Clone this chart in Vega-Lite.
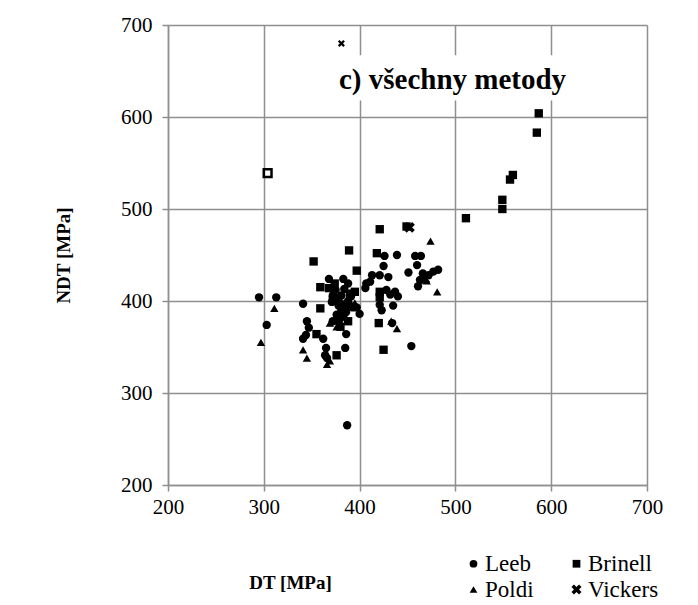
{
  "$schema": "https://vega.github.io/schema/vega-lite/v6.json",
  "width": 479,
  "height": 460,
  "autosize": "none",
  "padding": {"left": 168, "top": 25, "right": 51, "bottom": 120},
  "config": {
    "view": {"stroke": null},
    "font": "Liberation Serif",
    "axis": {
      "grid": true,
      "gridColor": "#8f8f8f",
      "gridWidth": 1.5,
      "domainColor": "#8f8f8f",
      "domainWidth": 1.5,
      "tickColor": "#8f8f8f",
      "tickWidth": 1.5,
      "tickSize": 6,
      "labelFlush": false,
      "labelFont": "Liberation Serif",
      "labelFontSize": 21,
      "labelColor": "black",
      "titleFont": "Liberation Serif",
      "titleFontSize": 19,
      "titleFontWeight": "bold",
      "titleColor": "black"
    },
    "legend": {
      "labelFont": "Liberation Serif",
      "labelFontSize": 23,
      "labelColor": "black"
    }
  },
  "datasets": {
    "pts": [
      {"m": "Leeb", "DT": 295, "NDT": 404}, {"m": "Leeb", "DT": 303, "NDT": 374}, {"m": "Leeb", "DT": 313, "NDT": 404},
      {"m": "Leeb", "DT": 341, "NDT": 397}, {"m": "Leeb", "DT": 345, "NDT": 378}, {"m": "Leeb", "DT": 347, "NDT": 371},
      {"m": "Leeb", "DT": 341, "NDT": 359}, {"m": "Leeb", "DT": 344, "NDT": 363}, {"m": "Leeb", "DT": 362, "NDT": 359},
      {"m": "Leeb", "DT": 365, "NDT": 349}, {"m": "Leeb", "DT": 364, "NDT": 341}, {"m": "Leeb", "DT": 366, "NDT": 338},
      {"m": "Leeb", "DT": 385, "NDT": 349}, {"m": "Leeb", "DT": 386, "NDT": 364}, {"m": "Leeb", "DT": 387, "NDT": 265},
      {"m": "Leeb", "DT": 368, "NDT": 424}, {"m": "Leeb", "DT": 383, "NDT": 424}, {"m": "Leeb", "DT": 371, "NDT": 399},
      {"m": "Leeb", "DT": 378, "NDT": 395}, {"m": "Leeb", "DT": 400, "NDT": 386}, {"m": "Leeb", "DT": 407, "NDT": 419},
      {"m": "Leeb", "DT": 406, "NDT": 414}, {"m": "Leeb", "DT": 413, "NDT": 428}, {"m": "Leeb", "DT": 421, "NDT": 428},
      {"m": "Leeb", "DT": 430, "NDT": 426}, {"m": "Leeb", "DT": 425, "NDT": 438}, {"m": "Leeb", "DT": 426, "NDT": 449},
      {"m": "Leeb", "DT": 439, "NDT": 450}, {"m": "Leeb", "DT": 458, "NDT": 449}, {"m": "Leeb", "DT": 464, "NDT": 449},
      {"m": "Leeb", "DT": 460, "NDT": 439}, {"m": "Leeb", "DT": 451, "NDT": 431}, {"m": "Leeb", "DT": 437, "NDT": 410},
      {"m": "Leeb", "DT": 432, "NDT": 407}, {"m": "Leeb", "DT": 421, "NDT": 396}, {"m": "Leeb", "DT": 435, "NDT": 395},
      {"m": "Leeb", "DT": 434, "NDT": 376}, {"m": "Leeb", "DT": 454, "NDT": 351}, {"m": "Leeb", "DT": 463, "NDT": 423},
      {"m": "Leeb", "DT": 461, "NDT": 416}, {"m": "Leeb", "DT": 472, "NDT": 428}, {"m": "Leeb", "DT": 477, "NDT": 432},
      {"m": "Leeb", "DT": 482, "NDT": 434}, {"m": "Leeb", "DT": 388, "NDT": 400}, {"m": "Leeb", "DT": 391, "NDT": 405},
      {"m": "Leeb", "DT": 393, "NDT": 393}, {"m": "Leeb", "DT": 375, "NDT": 412}, {"m": "Leeb", "DT": 381, "NDT": 406},
      {"m": "Leeb", "DT": 384, "NDT": 413}, {"m": "Leeb", "DT": 372, "NDT": 406}, {"m": "Leeb", "DT": 376, "NDT": 385},
      {"m": "Leeb", "DT": 386, "NDT": 388}, {"m": "Leeb", "DT": 397, "NDT": 393}, {"m": "Leeb", "DT": 411, "NDT": 421},
      {"m": "Leeb", "DT": 388, "NDT": 419}, {"m": "Leeb", "DT": 428, "NDT": 412}, {"m": "Leeb", "DT": 423, "NDT": 390},
      {"m": "Leeb", "DT": 440, "NDT": 405}, {"m": "Leeb", "DT": 466, "NDT": 430}, {"m": "Leeb", "DT": 372, "NDT": 378},
      {"m": "Leeb", "DT": 379, "NDT": 380},
      {"m": "Brinell", "DT": 587, "NDT": 604}, {"m": "Brinell", "DT": 585, "NDT": 583}, {"m": "Brinell", "DT": 560, "NDT": 537},
      {"m": "Brinell", "DT": 557, "NDT": 532}, {"m": "Brinell", "DT": 549, "NDT": 510}, {"m": "Brinell", "DT": 549, "NDT": 500},
      {"m": "Brinell", "DT": 511, "NDT": 490}, {"m": "Brinell", "DT": 421, "NDT": 478}, {"m": "Brinell", "DT": 389, "NDT": 455},
      {"m": "Brinell", "DT": 418, "NDT": 452}, {"m": "Brinell", "DT": 352, "NDT": 443}, {"m": "Brinell", "DT": 397, "NDT": 433},
      {"m": "Brinell", "DT": 359, "NDT": 415}, {"m": "Brinell", "DT": 374, "NDT": 419}, {"m": "Brinell", "DT": 368, "NDT": 414},
      {"m": "Brinell", "DT": 395, "NDT": 410}, {"m": "Brinell", "DT": 390, "NDT": 408}, {"m": "Brinell", "DT": 421, "NDT": 410},
      {"m": "Brinell", "DT": 421, "NDT": 404}, {"m": "Brinell", "DT": 420, "NDT": 376}, {"m": "Brinell", "DT": 359, "NDT": 392},
      {"m": "Brinell", "DT": 381, "NDT": 388}, {"m": "Brinell", "DT": 392, "NDT": 394}, {"m": "Brinell", "DT": 383, "NDT": 383},
      {"m": "Brinell", "DT": 378, "NDT": 379}, {"m": "Brinell", "DT": 355, "NDT": 364}, {"m": "Brinell", "DT": 376, "NDT": 341},
      {"m": "Brinell", "DT": 425, "NDT": 347}, {"m": "Brinell", "DT": 385, "NDT": 396}, {"m": "Brinell", "DT": 372, "NDT": 401},
      {"m": "Brinell", "DT": 378, "NDT": 403}, {"m": "Brinell", "DT": 387, "NDT": 396}, {"m": "Brinell", "DT": 380, "NDT": 372},
      {"m": "Brinell", "DT": 388, "NDT": 378}, {"m": "Brinell", "DT": 449, "NDT": 481},
      {"m": "Poldi", "DT": 297, "NDT": 355}, {"m": "Poldi", "DT": 311, "NDT": 392}, {"m": "Poldi", "DT": 341, "NDT": 347},
      {"m": "Poldi", "DT": 345, "NDT": 338}, {"m": "Poldi", "DT": 366, "NDT": 331}, {"m": "Poldi", "DT": 369, "NDT": 335},
      {"m": "Poldi", "DT": 369, "NDT": 376}, {"m": "Poldi", "DT": 433, "NDT": 378}, {"m": "Poldi", "DT": 439, "NDT": 370},
      {"m": "Poldi", "DT": 474, "NDT": 465}, {"m": "Poldi", "DT": 481, "NDT": 410}, {"m": "Poldi", "DT": 470, "NDT": 422},
      {"m": "Poldi", "DT": 376, "NDT": 372}, {"m": "Poldi", "DT": 395, "NDT": 398},
      {"m": "Vickers", "DT": 452, "NDT": 480}, {"m": "Vickers", "DT": 468, "NDT": 424}
    ],
    "out": [
      {"m": "Brinell", "DT": 304, "NDT": 539},
      {"m": "Vickers", "DT": 381, "NDT": 680}
    ],
    "note": [
      {"label": "c) všechny metody", "DT": 497, "NDT": 640, "x0": 367, "x1": 628, "y0": 618, "y1": 667}
    ]
  },
  "encoding": {
    "x": {
      "field": "DT", "type": "quantitative",
      "scale": {"domain": [200, 700], "nice": false, "zero": false},
      "axis": {
        "values": [200, 300, 400, 500, 600, 700],
        "labelPadding": 5,
        "labelFlush": false,
        "title": "DT [MPa]",
        "titleX": 122, "titleY": 97,
        "titleAlign": "center", "titleBaseline": "middle"
      }
    },
    "y": {
      "field": "NDT", "type": "quantitative",
      "scale": {"domain": [200, 700], "nice": false, "zero": false},
      "axis": {
        "values": [200, 300, 400, 500, 600, 700],
        "labelPadding": 10,
        "labelFlush": false,
        "title": "NDT [MPa]",
        "titleX": -105, "titleY": 230,
        "titleAlign": "center", "titleBaseline": "middle"
      }
    }
  },
  "layer": [
    {
      "data": {"name": "pts"},
      "mark": {"type": "point", "filled": true, "opacity": 1, "color": "black", "size": 70, "strokeWidth": 0},
      "encoding": {
        "shape": {
          "field": "m", "type": "nominal",
          "scale": {
            "domain": ["Leeb", "Poldi", "Brinell", "Vickers"],
            "range": ["circle", "triangle-up", "square", "M-1.3,-0.65L-0.65,-1.3L0,-0.65L0.65,-1.3L1.3,-0.65L0.65,0L1.3,0.65L0.65,1.3L0,0.65L-0.65,1.3L-1.3,0.65L-0.65,0Z"]
          },
          "legend": {
            "title": null,
            "orient": "none",
            "legendX": 294,
            "legendY": 527,
            "columns": 2,
            "columnPadding": 31,
            "rowPadding": 2,
            "symbolSize": 60,
            "symbolOffset": 0,
            "labelOffset": 0,
            "symbolFillColor": "black",
            "symbolStrokeWidth": 0
          }
        }
      }
    },
    {
      "data": {"name": "out"},
      "transform": [{"filter": "datum.m === 'Brinell'"}],
      "mark": {"type": "point", "shape": "square", "filled": false, "color": "black", "strokeWidth": 2.5, "size": 60, "opacity": 1}
    },
    {
      "data": {"name": "out"},
      "transform": [{"filter": "datum.m === 'Vickers'"}],
      "mark": {"type": "point", "shape": "M-1,-1L1,1M1,-1L-1,1", "filled": false, "color": "black", "strokeWidth": 2.2, "size": 30, "opacity": 1}
    },
    {
      "data": {"name": "note"},
      "mark": {"type": "rect", "color": "white"},
      "encoding": {
        "x": {"field": "x0", "type": "quantitative"},
        "x2": {"field": "x1"},
        "y": {"field": "y0", "type": "quantitative"},
        "y2": {"field": "y1"}
      }
    },
    {
      "data": {"name": "note"},
      "mark": {"type": "text", "font": "Liberation Serif", "fontSize": 29, "fontWeight": "bold", "color": "black", "align": "center", "baseline": "middle"},
      "encoding": {
        "text": {"field": "label"}
      }
    }
  ]
}
